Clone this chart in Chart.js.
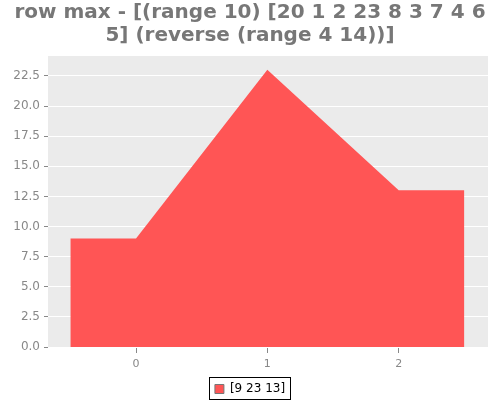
<!DOCTYPE html>
<html>
<head>
<meta charset="utf-8">
<script src="https://cdn.jsdelivr.net/npm/chart.js@4/dist/chart.umd.min.js"></script>
<style>
  html, body { margin: 0; padding: 0; background: white; }
  #wrap { width: 500px; height: 400px; }
</style>
</head>
<body>
<div id="wrap"><canvas id="grafico"></canvas></div>
<script>
const titulo = ['row max - [(range 10) [20 1 2 23 8 3 7 4 6', '5] (reverse (range 4 14))]'];
const categorias = [0, 1, 2];
const valores = [9, 23, 13];
const rotulo = '[9 23 13]';
const yTicks = [0, 2.5, 5, 7.5, 10, 12.5, 15, 17.5, 20, 22.5];

// pontos da area: cada categoria ocupa meia unidade para cada lado
const pontos = [{ x: categorias[0] - 0.5, y: valores[0] }];
categorias.forEach((c, i) => pontos.push({ x: c, y: valores[i] }));
pontos.push({ x: categorias[categorias.length - 1] + 0.5, y: valores[valores.length - 1] });

const fundo = {
    id: 'fundo',
    beforeDraw(chart) {
        const a = chart.chartArea;
        const c = chart.ctx;
        c.save();
        c.fillStyle = '#ebebeb';
        c.fillRect(a.left, a.top, a.right - a.left, a.bottom - a.top);
        c.restore();
    },
    afterDraw(chart) {
        // moldura preta em volta do item da legenda
        const hb = chart.legend.legendHitBoxes[0];
        if (!hb) return;
        const c = chart.ctx;
        const meio = Math.round(hb.top + hb.height / 2);
        c.save();
        c.strokeStyle = 'black';
        c.lineWidth = 1;
        c.strokeRect(Math.round(hb.left) - 5.5, meio - 11.5, Math.round(hb.width) + 11, 22);
        c.restore();
    }
};

const ctx = document.getElementById('grafico').getContext('2d');
const grafico = new Chart(ctx, {
    type: 'line',
    data: {
        datasets: [{
            label: rotulo,
            data: pontos,
            fill: 'origin',
            backgroundColor: '#ff5555',
            borderColor: '#ff5555',
            borderWidth: 0,
            pointRadius: 0,
            tension: 0
        }]
    },
    options: {
        responsive: true,
        maintainAspectRatio: false,
        animation: false,
        layout: { padding: { left: 12, right: 12, top: 1, bottom: -5 } },
        plugins: {
            title: {
                display: true,
                text: titulo,
                color: '#777777',
                font: { family: 'DejaVu Sans', size: 20, weight: 'bold', lineHeight: 1.15 },
                padding: { top: 0, bottom: 9 }
            },
            legend: {
                position: 'bottom',
                labels: {
                    color: '#444444',
                    font: { family: 'DejaVu Sans', size: 12 },
                    boxWidth: 9,
                    boxHeight: 9,
                    padding: 2,
                    generateLabels: (chart) => [{
                        text: rotulo,
                        fillStyle: '#ff5555',
                        strokeStyle: '#777777',
                        lineWidth: 1,
                        datasetIndex: 0
                    }]
                }
            },
            tooltip: { enabled: false }
        },
        scales: {
            x: {
                type: 'linear',
                min: -0.67,
                max: 2.68,
                afterBuildTicks: (s) => { s.ticks = categorias.map(v => ({ value: v })); },
                afterFit: (s) => { s.height = 34; },
                border: { display: false },
                grid: { drawOnChartArea: false, tickColor: '#888888', tickLength: 6, tickWidth: 1 },
                ticks: {
                    color: '#888888',
                    font: { family: 'DejaVu Sans', size: 11 },
                    padding: 5,
                    callback: (v) => String(v)
                }
            },
            y: {
                min: 0,
                max: 24.15,
                afterBuildTicks: (s) => { s.ticks = yTicks.map(v => ({ value: v })); },
                afterFit: (s) => { s.width = 36; },
                border: { display: false },
                grid: { color: 'white', lineWidth: 1, tickColor: '#888888', tickLength: 4, tickWidth: 1 },
                ticks: {
                    color: '#888888',
                    font: { family: 'DejaVu Sans', size: 12 },
                    padding: 4,
                    callback: (v) => v.toFixed(1)
                }
            }
        }
    },
    plugins: [fundo]
});
</script>
</body>
</html>
